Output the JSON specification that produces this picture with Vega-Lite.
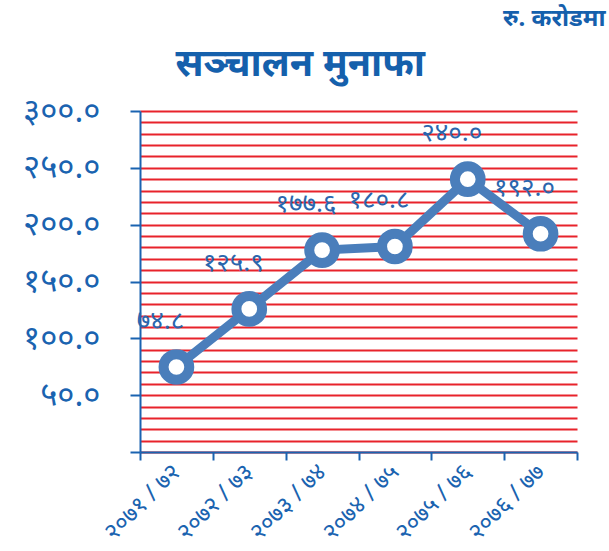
{
  "$schema": "https://vega.github.io/schema/vega-lite/v6.json",
  "autosize": "none",
  "width": 437,
  "height": 341,
  "padding": {"left": 140, "top": 111, "right": 32, "bottom": 99},
  "background": "white",
  "config": {"view": {"stroke": null}, "font": "Noto Sans"},
  "data": {
    "values": [
      {"year": "२०७१ / ७२", "value": 74.8, "label": "७४.८"},
      {"year": "२०७२ / ७३", "value": 125.9, "label": "१२५.९"},
      {"year": "२०७३ / ७४", "value": 177.6, "label": "१७७.६"},
      {"year": "२०७४ / ७५", "value": 180.8, "label": "१८०.८"},
      {"year": "२०७५ / ७६", "value": 240.0, "label": "२४०.०"},
      {"year": "२०७६ / ७७", "value": 192.0, "label": "१९२.०"}
    ]
  },
  "encoding": {
    "x": {
      "field": "year",
      "type": "nominal",
      "sort": null,
      "scale": {"paddingInner": 0, "paddingOuter": 0},
      "axis": {
        "title": "सञ्चालन मुनाफा",
        "titleX": 35,
        "titleY": -388,
        "titleAlign": "left",
        "titleBaseline": "middle",
        "titleAngle": 0,
        "titleFontSize": 38,
        "titleFontWeight": "bold",
        "titleColor": "#1560ac",
        "grid": false,
        "tickBand": "extent",
        "domainColor": "#1a63b0",
        "domainWidth": 2,
        "tickColor": "#1a63b0",
        "tickWidth": 2,
        "tickSize": 8,
        "labelAngle": -45,
        "labelAlign": "right",
        "labelBaseline": "middle",
        "labelPadding": 8,
        "labelFontSize": 24,
        "labelColor": "#1a63b0"
      }
    },
    "y": {
      "field": "value",
      "type": "quantitative",
      "scale": {"domain": [0, 300], "nice": false},
      "axis": {
        "values": [0, 10, 20, 30, 40, 50, 60, 70, 80, 90, 100, 110, 120, 130, 140, 150, 160, 170, 180, 190, 200, 210, 220, 230, 240, 250, 260, 270, 280, 290, 300],
        "grid": true,
        "gridColor": "#e8232b",
        "gridWidth": 2,
        "gridOpacity": 1,
        "domainColor": "#1a63b0",
        "domainWidth": 2,
        "tickColor": "#1a63b0",
        "tickWidth": 2,
        "tickSize": 10,
        "tickOpacity": {"expr": "datum.value % 50 === 0 ? 1 : 0"},
        "labelExpr": "datum.value % 50 === 0 && datum.value > 0 ? replace(replace(replace(replace(replace(format(datum.value, '.1f'), regexp('0', 'g'), '०'), regexp('1', 'g'), '१'), regexp('2', 'g'), '२'), regexp('3', 'g'), '३'), regexp('5', 'g'), '५') : ''",
        "labelFontSize": 33,
        "labelColor": "#1a63b0",
        "labelPadding": 30,
        "title": "रु. करोडमा",
        "titleAngle": 0,
        "titleX": 465,
        "titleY": -93,
        "titleAlign": "right",
        "titleBaseline": "middle",
        "titleFontSize": 24,
        "titleFontWeight": "bold",
        "titleColor": "#1560ac"
      }
    }
  },
  "layer": [
    {"mark": {"type": "line", "color": "#4a7ebb", "strokeWidth": 9}},
    {"mark": {"type": "point", "shape": "circle", "filled": true, "fill": "white", "stroke": "#4a7ebb", "strokeWidth": 10, "size": 660, "opacity": 1}},
    {"mark": {"type": "text", "dx": -16, "dy": -46, "fontSize": 26, "color": "#2a66ad"}, "encoding": {"text": {"field": "label"}}}
  ]
}
